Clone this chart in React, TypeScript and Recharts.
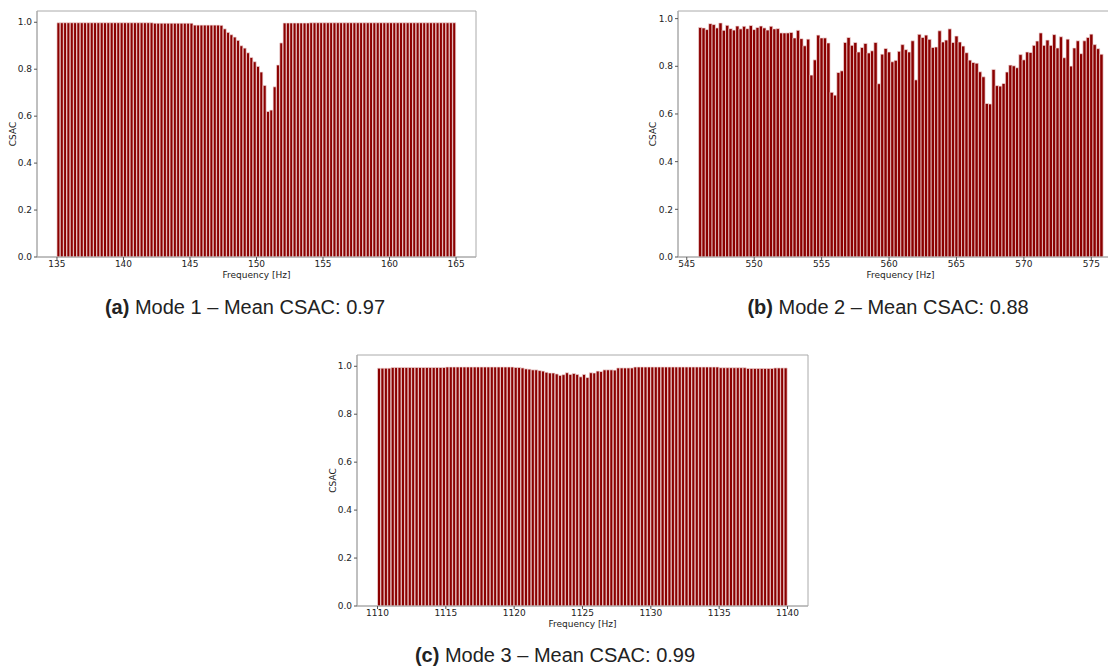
import React from "react";
import { BarChart, Bar, XAxis, YAxis, ReferenceArea } from "recharts";

// bar centres on a 0.25 Hz grid
const modeOneFreq = Array.from({ length: 120 }, (_, i) => 135.125 + 0.25 * i);
const modeTwoFreq = Array.from({ length: 120 }, (_, i) => 546 + 0.25 * i);
const modeThreeFreq = Array.from({ length: 120 }, (_, i) => 1110.125 + 0.25 * i);

const modeOneCsac = [
  0.998, 0.998, 0.998, 0.998, 0.998, 0.998, 0.998, 0.998, 0.998, 0.998,
  0.998, 0.998, 0.998, 0.998, 0.998, 0.998, 0.998, 0.998, 0.998, 0.998,
  0.998, 0.998, 0.998, 0.998, 0.998, 0.998, 0.998, 0.998, 0.998, 0.996,
  0.996, 0.996, 0.996, 0.996, 0.996, 0.996, 0.996, 0.996, 0.996, 0.996,
  0.996, 0.988, 0.988, 0.988, 0.988, 0.988, 0.988, 0.988, 0.988, 0.987,
  0.972, 0.957, 0.947, 0.937, 0.923, 0.9, 0.89, 0.87, 0.85, 0.832,
  0.812, 0.788, 0.731, 0.62, 0.626, 0.725, 0.818, 0.912, 0.997, 0.997,
  0.997, 0.997, 0.997, 0.997, 0.997, 0.997, 0.998, 0.998, 0.998, 0.998,
  0.998, 0.998, 0.998, 0.998, 0.998, 0.998, 0.998, 0.998, 0.998, 0.998,
  0.998, 0.998, 0.998, 0.998, 0.998, 0.998, 0.998, 0.998, 0.998, 0.998,
  0.998, 0.998, 0.998, 0.998, 0.998, 0.998, 0.998, 0.998, 0.998, 0.998,
  0.998, 0.998, 0.998, 0.998, 0.998, 0.998, 0.998, 0.998, 0.998, 0.998,
];

const modeTwoCsac = [
  0.963, 0.961, 0.954, 0.979, 0.975, 0.961, 0.982, 0.951, 0.972, 0.958,
  0.952, 0.969, 0.957, 0.968, 0.958, 0.971, 0.954, 0.963, 0.969, 0.961,
  0.952, 0.968, 0.957, 0.958, 0.94, 0.94, 0.94, 0.942, 0.919, 0.951,
  0.916, 0.886, 0.914, 0.763, 0.827, 0.931, 0.919, 0.919, 0.898, 0.691,
  0.679, 0.774, 0.781, 0.9, 0.921, 0.888, 0.9, 0.86, 0.879, 0.896,
  0.856, 0.865, 0.9, 0.727, 0.851, 0.875, 0.86, 0.819, 0.825, 0.863,
  0.891, 0.87, 0.86, 0.907, 0.743, 0.934, 0.921, 0.931, 0.913, 0.879,
  0.881, 0.949, 0.902, 0.91, 0.957, 0.9, 0.927, 0.902, 0.885, 0.857,
  0.826, 0.816, 0.813, 0.777, 0.756, 0.644, 0.642, 0.787, 0.719, 0.717,
  0.728, 0.776, 0.805, 0.802, 0.794, 0.849, 0.827, 0.86, 0.858, 0.888,
  0.906, 0.94, 0.888, 0.91, 0.888, 0.933, 0.877, 0.924, 0.836, 0.914,
  0.801, 0.877, 0.907, 0.853, 0.907, 0.921, 0.935, 0.891, 0.874, 0.851,
];

const modeThreeCsac = [
  0.992, 0.992, 0.992, 0.992, 0.995, 0.995, 0.995, 0.995, 0.995, 0.995,
  0.995, 0.995, 0.995, 0.995, 0.995, 0.995, 0.995, 0.995, 0.995, 0.995,
  0.997, 0.997, 0.997, 0.997, 0.997, 0.997, 0.997, 0.997, 0.997, 0.997,
  0.997, 0.997, 0.997, 0.997, 0.997, 0.997, 0.997, 0.997, 0.997, 0.997,
  0.995, 0.995, 0.993, 0.989, 0.988, 0.985, 0.985, 0.982, 0.98, 0.975,
  0.972, 0.972, 0.968, 0.962, 0.965, 0.973, 0.966, 0.97, 0.966, 0.956,
  0.966, 0.953, 0.973, 0.972, 0.98, 0.978, 0.985, 0.985, 0.985, 0.984,
  0.993, 0.993, 0.993, 0.993, 0.993, 0.997, 0.997, 0.997, 0.997, 0.997,
  0.997, 0.997, 0.997, 0.997, 0.997, 0.997, 0.997, 0.997, 0.997, 0.997,
  0.997, 0.997, 0.997, 0.997, 0.997, 0.997, 0.997, 0.997, 0.997, 0.997,
  0.994, 0.994, 0.994, 0.994, 0.994, 0.994, 0.994, 0.994, 0.991, 0.991,
  0.991, 0.991, 0.991, 0.991, 0.991, 0.991, 0.993, 0.993, 0.993, 0.993,
];

const modeOneTicks = [135, 140, 145, 150, 155, 160, 165];
const modeTwoTicks = [545, 550, 555, 560, 565, 570, 575];
const modeThreeTicks = [1110, 1115, 1120, 1125, 1130, 1135, 1140];
const yTicks = [0, 0.2, 0.4, 0.6, 0.8, 1.0];

const BAR = "#8b0000";
const SPINE = "#aaaaaa";
const TEXT = "#222";
const tickFont = { fontSize: 9, fill: TEXT, fontFamily: "DejaVu Sans" };

const toRows = (freq: number[], vals: number[]) =>
  freq.map((f, i) => ({ f, v: vals[i] }));

type PanelProps = {
  left: number;
  top: number;
  width: number;
  height: number;
  yAxisWidth: number;
  rightMargin: number;
  data: { f: number; v: number }[];
  xDomain: [number, number];
  yMax: number;
  xTicks: number[];
  barSize: number;
};

const Panel: React.FC<PanelProps> = ({
  left, top, width, height, yAxisWidth, rightMargin, data, xDomain, yMax, xTicks, barSize,
}) => (
  <div style={{ position: "absolute", left, top }}>
    <BarChart
      width={width}
      height={height}
      data={data}
      margin={{ top: 11, right: rightMargin, bottom: 0, left: 0 }}
    >
      <XAxis
        dataKey="f"
        type="number"
        domain={xDomain}
        ticks={xTicks}
        allowDataOverflow
        height={28}
        tickSize={3}
        tickMargin={1}
        tick={tickFont}
        tickLine={{ stroke: "#555" }}
        axisLine={{ stroke: SPINE }}
        label={{ value: "Frequency [Hz]", position: "insideBottom", offset: 7, ...tickFont }}
      />
      <YAxis
        type="number"
        domain={[0, yMax]}
        ticks={yTicks}
        allowDataOverflow
        width={yAxisWidth}
        tickSize={3}
        tickMargin={2}
        tick={tickFont}
        tickLine={{ stroke: "#555" }}
        axisLine={{ stroke: SPINE }}
        tickFormatter={(v: number) => v.toFixed(1)}
        label={{
          value: "CSAC",
          angle: -90,
          position: "insideLeft",
          offset: 13,
          style: { textAnchor: "middle" },
          ...tickFont,
        }}
      />
      <Bar
        dataKey="v"
        fill={BAR}
        stroke="#f3dede"
        strokeWidth={0.7}
        barSize={barSize}
        isAnimationActive={false}
      />
      {/* plot frame */}
      <ReferenceArea
        x1={xDomain[0]}
        x2={xDomain[1]}
        y1={0}
        y2={yMax}
        ifOverflow="visible"
        fill="none"
        stroke={SPINE}
        strokeWidth={1}
      />
    </BarChart>
  </div>
);

const captionStyle: React.CSSProperties = {
  position: "absolute",
  width: 440,
  textAlign: "center",
  fontFamily: "'Liberation Sans', Arial, sans-serif",
  fontSize: 20,
  lineHeight: "20px",
  color: TEXT,
};

const Caption = ({ cx, top, tag, text }: { cx: number; top: number; tag: string; text: string }) => (
  <div style={{ ...captionStyle, left: cx - 220, top }}>
    <b>{tag}</b> {text}
  </div>
);

export default function App() {
  return (
    <div
      style={{
        position: "absolute",
        left: 0,
        top: 0,
        width: 1108,
        height: 668,
        overflow: "hidden",
        background: "#fff",
      }}
    >
      <Panel
        left={0}
        top={0}
        width={480}
        height={285}
        yAxisWidth={37}
        rightMargin={4}
        data={toRows(modeOneFreq, modeOneCsac)}
        xDomain={[133.5, 166.5]}
        yMax={1.048}
        xTicks={modeOneTicks}
        barSize={3.33}
      />
      <Panel
        left={640}
        top={0}
        width={483}
        height={285}
        yAxisWidth={38}
        rightMargin={0}
        data={toRows(modeTwoFreq, modeTwoCsac)}
        xDomain={[544.35, 577.35]}
        yMax={1.032}
        xTicks={modeTwoTicks}
        barSize={3.37}
      />
      <Panel
        left={320}
        top={344}
        width={492}
        height={290}
        yAxisWidth={37}
        rightMargin={4}
        data={toRows(modeThreeFreq, modeThreeCsac)}
        xDomain={[1108.5, 1141.5]}
        yMax={1.047}
        xTicks={modeThreeTicks}
        barSize={3.42}
      />
      <Caption cx={245} top={297} tag="(a)" text="Mode 1 – Mean CSAC: 0.97" />
      <Caption cx={888} top={297} tag="(b)" text="Mode 2 – Mean CSAC: 0.88" />
      <Caption cx={555} top={645} tag="(c)" text="Mode 3 – Mean CSAC: 0.99" />
    </div>
  );
}
